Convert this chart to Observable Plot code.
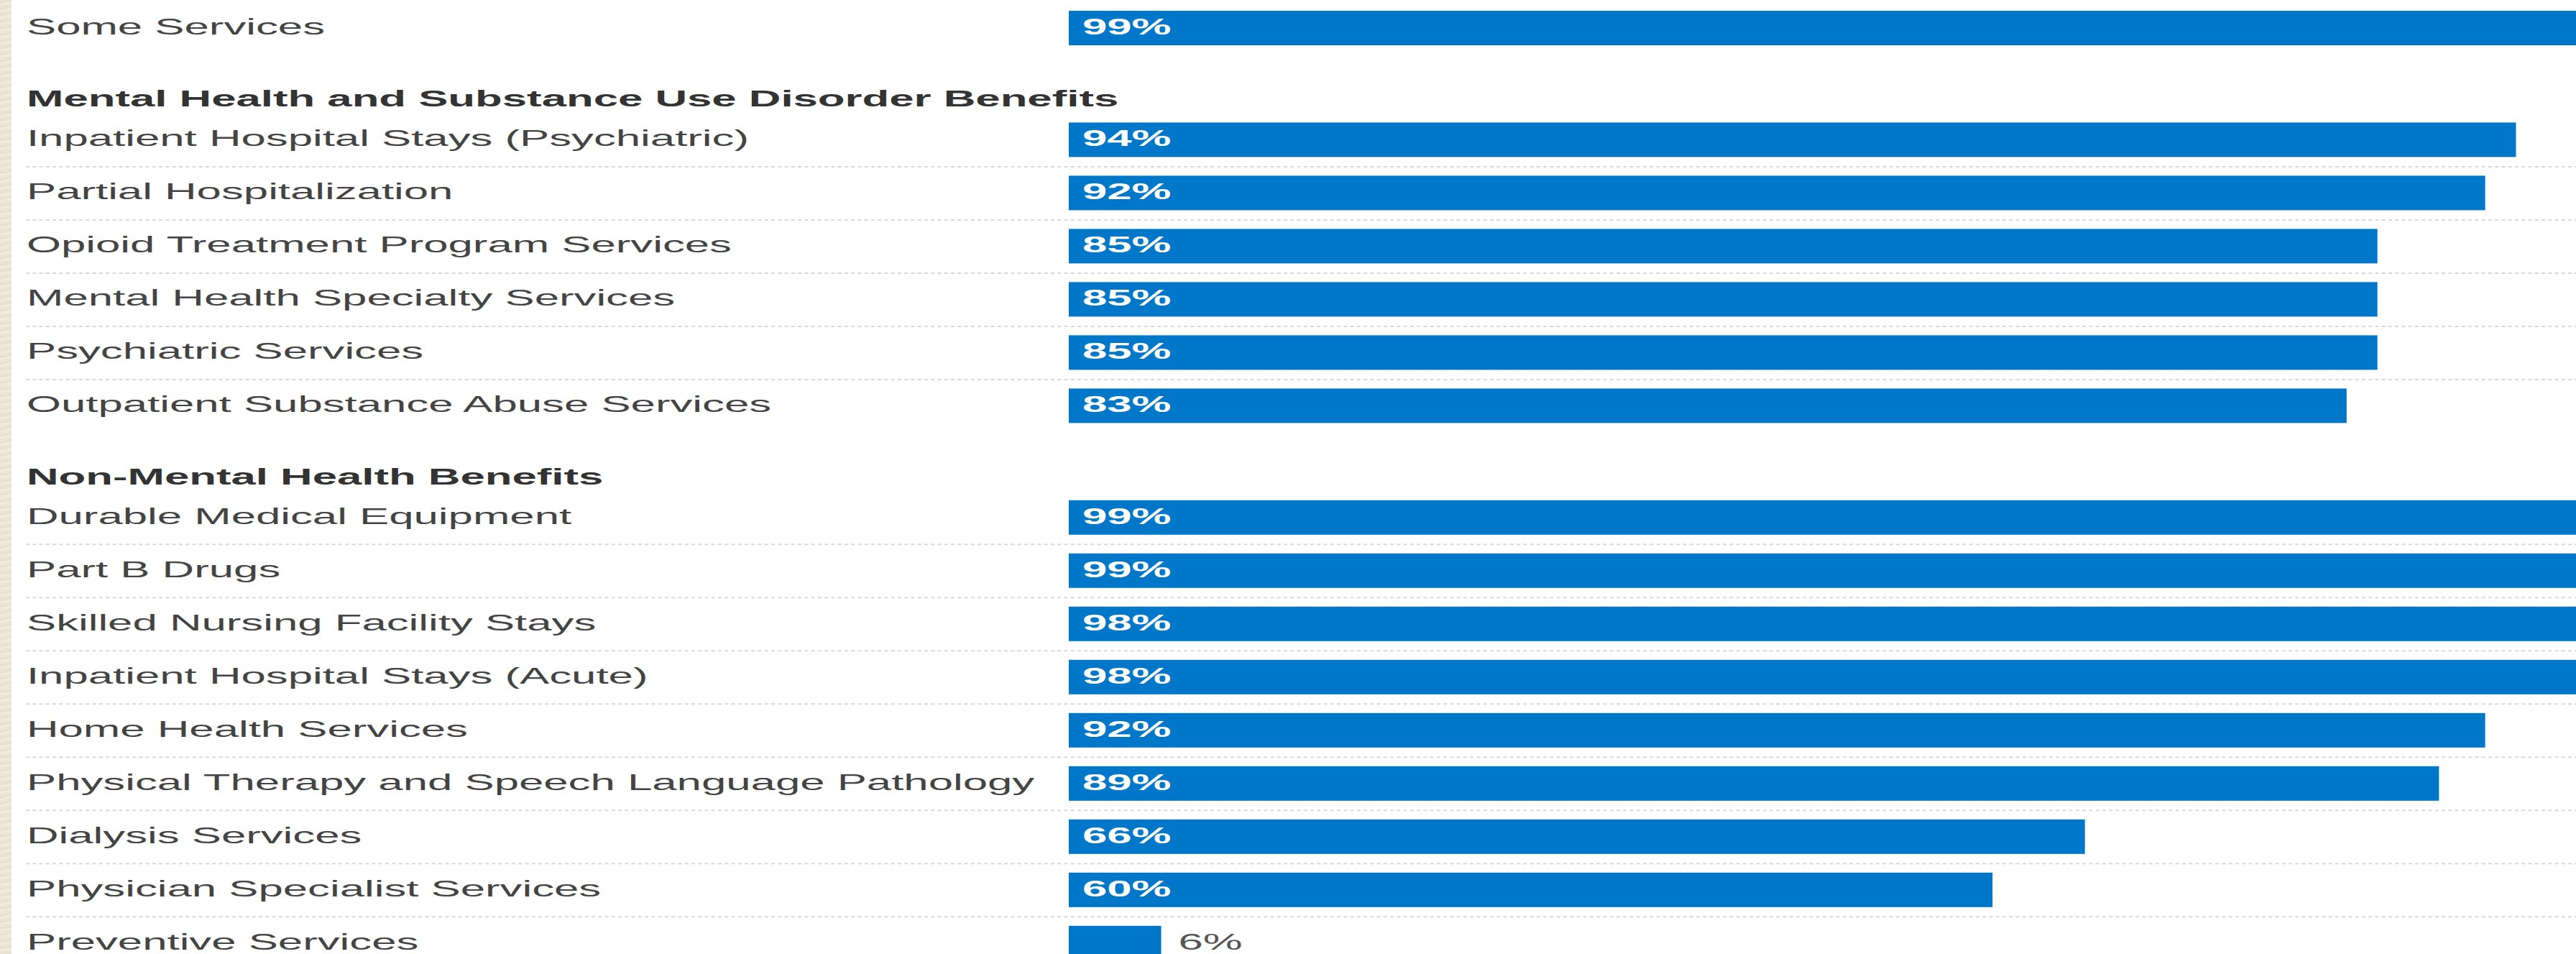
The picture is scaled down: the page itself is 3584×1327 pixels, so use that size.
<!DOCTYPE html>
<html>
<head>
<meta charset="utf-8">
<script src="https://cdn.jsdelivr.net/npm/d3@7"></script>
<script src="https://cdn.jsdelivr.net/npm/@observablehq/plot@0.6"></script>
<style>
  html, body { margin: 0; padding: 0; background: #ffffff; overflow: hidden; }
  #wrap { position: relative; width: 3584px; height: 1327px; overflow: hidden; background: #ffffff; }
  #strip { position: absolute; left: 0; top: 0; width: 16px; height: 1327px; z-index: 2;
    background: repeating-linear-gradient(170deg, #ecead9 0px, #e3e0cc 3px, #f1efe3 6px, #e6e3d0 9px); }
  #chart { position: absolute; left: 0; top: 0; }
  #chart svg { transform-origin: 0 0; }
</style>
</head>
<body>
<div id="wrap"><div id="strip"></div><div id="chart"></div></div>
<script>
// ---- data ----
const groupNames = ["", "Mental Health and Substance Use Disorder Benefits", "Non-Mental Health Benefits"];
const labels = [
  "Some Services",
  "Inpatient Hospital Stays (Psychiatric)",
  "Partial Hospitalization",
  "Opioid Treatment Program Services",
  "Mental Health Specialty Services",
  "Psychiatric Services",
  "Outpatient Substance Abuse Services",
  "Durable Medical Equipment",
  "Part B Drugs",
  "Skilled Nursing Facility Stays",
  "Inpatient Hospital Stays (Acute)",
  "Home Health Services",
  "Physical Therapy and Speech Language Pathology",
  "Dialysis Services",
  "Physician Specialist Services",
  "Preventive Services"
];
const values = [99, 94, 92, 85, 85, 85, 83, 99, 99, 98, 98, 92, 89, 66, 60, 6];
const groupIndex = [0, 1, 1, 1, 1, 1, 1, 2, 2, 2, 2, 2, 2, 2, 2, 2];

// ---- layout (style constants) ----
const S = 1.929;                  // horizontal stretch of the original rendering
const W = Math.round(3584 / S);   // unscaled plot width
const H = 1327;
const GROUP_GAP = 1.1;            // extra row slots between groups
const HALF_BAR = 0.3243;          // half bar thickness in row units
const BLUE = "#0077c8";

// build rows with slot index
let slot = 0;
const rows = labels.map((label, i) => {
  if (i > 0) slot += (groupIndex[i] !== groupIndex[i - 1]) ? 1 + GROUP_GAP : 1;
  return {
    label, value: values[i], group: groupIndex[i], slot,
    first: i === 0 || groupIndex[i] !== groupIndex[i - 1]
  };
});
const headers = groupNames
  .map((name, g) => ({name, slot: (rows.find(r => r.group === g) || {}).slot}))
  .filter(h => h.name !== "" && h.slot !== undefined);
const separators = rows.filter(r => !r.first);
const lastSlot = rows[rows.length - 1].slot;

const chart = Plot.plot({
  width: W,
  height: H,
  marginLeft: 36 / S,
  marginRight: 0,
  marginTop: 0,
  marginBottom: 0,
  style: {fontFamily: "'Liberation Sans', Arial, Helvetica, sans-serif", background: "transparent"},
  x: {domain: [0, 100], range: [1487 / S, (1487 + 2142) / S], axis: null},
  y: {type: "linear", domain: [0, lastSlot], range: [39, 39 + lastSlot * 74], axis: null},
  marks: [
    Plot.ruleY(separators, {
      y: d => d.slot - 0.5,
      stroke: "#d9d9d9", strokeWidth: 2, strokeDasharray: "2.6,2.2"
    }),
    Plot.rectX(rows, {
      x1: 0, x2: "value",
      y1: d => d.slot - HALF_BAR, y2: d => d.slot + HALF_BAR,
      fill: BLUE
    }),
    Plot.text(rows, {
      y: "slot", text: "label", frameAnchor: "left", textAnchor: "start",
      fontSize: 32, fill: "#444444", dy: -2
    }),
    Plot.text(headers, {
      y: d => d.slot - 0.74, text: "name", frameAnchor: "left", textAnchor: "start",
      fontSize: 32, fontWeight: "bold", fill: "#333333", dy: -2
    }),
    Plot.text(rows.filter(d => d.value >= 10), {
      x: 0, y: "slot", text: d => d.value + "%", textAnchor: "start",
      dx: 18 / S, dy: -2, fontSize: 32, fontWeight: "bold", fill: "#ffffff"
    }),
    Plot.text(rows.filter(d => d.value < 10), {
      x: "value", y: "slot", text: d => d.value + "%", textAnchor: "start",
      dx: 23 / S, dy: -2, fontSize: 32, fill: "#555555"
    })
  ]
});
chart.style.transform = `scaleX(${S})`;
chart.style.maxWidth = "none";
document.getElementById("chart").appendChild(chart);
</script>
</body>
</html>
